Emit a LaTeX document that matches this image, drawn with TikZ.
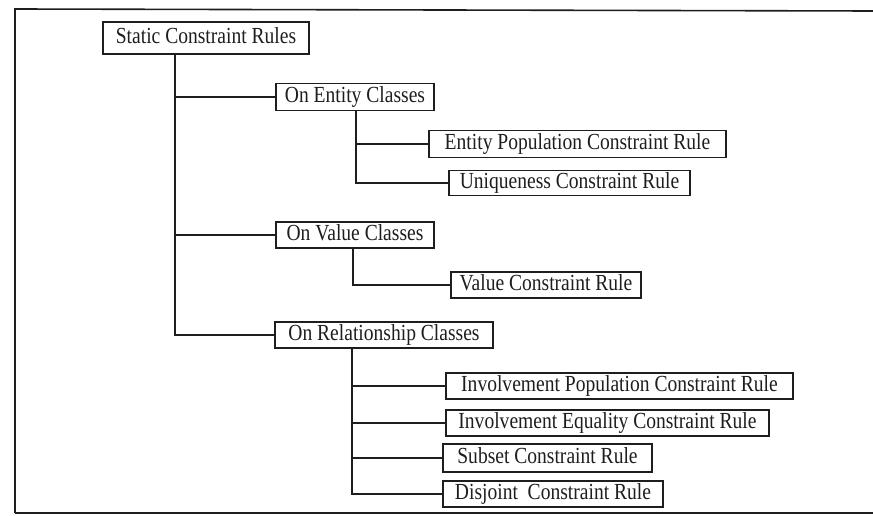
\documentclass[tikz,border=0pt]{standalone}
\usepackage{fontspec}
\setmainfont[FakeStretch=0.85]{Liberation Serif}
\definecolor{ink}{HTML}{1E1E1E}
\begin{document}
\begin{tikzpicture}[x=1pt,y=-1pt,
  rulebox/.style={draw=ink, line width=1.5pt, inner sep=0pt, text=ink,
    font=\fontsize{23}{27}\selectfont, text height=16pt, text depth=5pt},
  link/.style={draw=ink, line width=1.5pt}]
\useasboundingbox (0,0) rectangle (873,516);
\fill[white] (0,0) rectangle (873,516);

% outer frame, open on the right
\draw[ink, line width=1.6pt] (873,11) -- (15,9) -- (15,513);
\draw[ink, line width=2.6pt] (15,513) -- (873,513);

% boxes
\node[rulebox, minimum width=206pt, minimum height=32pt] (root) at (206,38) {Static Constraint Rules};
\node[rulebox, minimum width=158pt, minimum height=27pt] (ent) at (355,97) {On Entity Classes};
\node[rulebox, minimum width=297pt, minimum height=27pt] (epc) at (577.5,144) {Entity Population Constraint Rule};
\node[rulebox, minimum width=241pt, minimum height=25pt] (uni) at (569.5,183) {Uniqueness Constraint Rule};
\node[rulebox, minimum width=158pt, minimum height=26pt] (val) at (355,235) {On Value Classes};
\node[rulebox, minimum width=190pt, minimum height=26pt] (vcr) at (546,285) {Value Constraint Rule};
\node[rulebox, minimum width=218pt, minimum height=26pt] (rel) at (384,335) {On Relationship Classes};
\node[rulebox, minimum width=347pt, minimum height=26pt] (ipc) at (619.5,386) {Involvement Population Constraint Rule};
\node[rulebox, minimum width=323pt, minimum height=26pt] (iec) at (607.5,423) {Involvement Equality Constraint Rule};
\node[rulebox, minimum width=209pt, minimum height=28pt] (sub) at (547.5,458) {Subset Constraint Rule};
\node[rulebox, minimum width=220pt, minimum height=26pt] (dis) at (553,494) {Disjoint~ Constraint Rule};

% trunk positions
\coordinate (ta) at (175,0);
\coordinate (tb) at (356,0);
\coordinate (tc) at (353,0);
\coordinate (td) at (352,0);

% first level
\draw[link] (root.south -| ta) |- (rel.west);
\draw[link] (ta |- ent.west) -- (ent.west);
\draw[link] (ta |- val.west) -- (val.west);

% entity classes
\draw[link] (ent.south -| tb) |- (uni.west);
\draw[link] (tb |- epc.west) -- (epc.west);

% value classes
\draw[link] (val.south -| tc) |- (vcr.west);

% relationship classes
\draw[link] (rel.south -| td) |- (dis.west);
\draw[link] (td |- ipc.west) -- (ipc.west);
\draw[link] (td |- iec.west) -- (iec.west);
\draw[link] (td |- sub.west) -- (sub.west);
\end{tikzpicture}
\end{document}
